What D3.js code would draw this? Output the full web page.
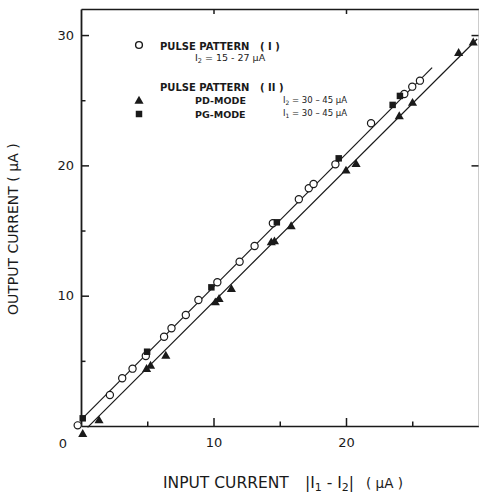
<!DOCTYPE html>
<html><head><meta charset="utf-8">
<script src="https://cdn.jsdelivr.net/npm/d3@7"></script>
<style>html,body{margin:0;padding:0;background:#fff;} svg{display:block;}</style>
</head><body>
<script>
// ---- data ----
const xTicks = [5, 10, 15, 20, 25];
const yTicks = [5, 10, 15, 20, 25, 30];
const xTickLabels = {10: "10", 20: "20"};
const yTickLabels = {10: "10", 20: "20", 30: "30"};

// PULSE PATTERN (I), open circles
const patternI = [[-0.25,0.05],[2.18,2.38],[3.11,3.66],[3.89,4.40],[4.89,5.37],[6.27,6.85],[6.83,7.50],[7.91,8.52],[8.86,9.67],[10.29,11.03],[11.97,12.61],[13.1,13.81],[14.48,15.56],[16.44,17.4],[17.19,18.24],[17.55,18.57],[19.2,20.08],[21.89,23.23],[24.4,25.48],[25.0,26.04],[25.58,26.5]];
// PULSE PATTERN (II) PG-MODE, filled squares
const pgMode = [[0.13,0.59],[4.99,5.70],[9.84,10.64],[14.78,15.63],[19.45,20.54],[23.52,24.64],[24.07,25.33]];
// PULSE PATTERN (II) PD-MODE, filled triangles
const pdMode = [[0.13,-0.64],[1.36,0.41],[4.95,4.35],[5.25,4.6],[6.4,5.37],[10.14,9.46],[10.42,9.72],[11.35,10.49],[14.36,14.07],[14.6,14.14],[15.86,15.3],[20.0,19.57],[20.76,20.08],[24.02,23.74],[25.02,24.77],[28.5,28.6],[29.6,29.4]];
// fitted lines
const upperLine = [[0.13,0.6],[26.5,27.5]];
const lowerLine = [[0.5,-0.1],[29.9,29.7]];

// ---- chart ----
const W = 479, H = 494;
const FONT = "'DejaVu Sans', sans-serif";
const INK = "#1a1a1a";
const svg = d3.select("body").append("svg").attr("width", W).attr("height", H)
  .style("font-family", FONT);

const x = d3.scaleLinear().domain([0, 30]).range([81, 478.5]);
const y = d3.scaleLinear().domain([0, 32]).range([426, 9]);

function styleAxis(g, w) {
  g.select(".domain").attr("stroke", INK).attr("stroke-width", w);
  g.selectAll(".tick line").attr("stroke", INK).attr("stroke-width", 1.5);
  g.selectAll(".tick text").attr("fill", INK).style("font-family", FONT).style("font-size", "13px");
}

// bottom
const gx = svg.append("g").attr("transform", `translate(0,${y(0)})`)
  .call(d3.axisBottom(x).tickValues(xTicks).tickSizeInner(-8).tickSizeOuter(0).tickPadding(12)
    .tickFormat(d => xTickLabels[d] || ""));
styleAxis(gx, 1.6);
gx.selectAll(".tick line").attr("y2", d => d % 10 === 0 ? -8 : -4.5);

// left
const gy = svg.append("g").attr("transform", `translate(${x(0)},0)`)
  .call(d3.axisLeft(y).tickValues(yTicks).tickSizeInner(-8).tickSizeOuter(0).tickPadding(7)
    .tickFormat(d => yTickLabels[d] || ""));
styleAxis(gy, 1.8);
gy.selectAll(".tick line").attr("x2", d => d % 10 === 0 ? 8 : 4.5);

// top
const gt = svg.append("g").attr("transform", `translate(0,${y(32)})`)
  .call(d3.axisTop(x).tickValues([10, 20]).tickSizeInner(-5).tickSizeOuter(0).tickFormat(""));
styleAxis(gt, 1.6);

// right
const gr = svg.append("g").attr("transform", `translate(${x(30)},0)`)
  .call(d3.axisRight(y).tickValues([20, 30]).tickSizeInner(-7).tickSizeOuter(0).tickFormat(""));
styleAxis(gr, 1);
gr.select(".domain").attr("stroke", "#999");

// origin label
svg.append("text").attr("x", x(0) - 18).attr("y", y(0) + 21.5)
  .attr("text-anchor", "middle").attr("fill", INK).style("font-size", "13px").text("0");

// lines
const line = d3.line().x(d => x(d[0])).y(d => y(d[1]));
[upperLine, lowerLine].forEach(l => {
  svg.append("path").attr("d", line(l)).attr("fill", "none").attr("stroke", INK).attr("stroke-width", 1.2);
});

// markers
svg.append("g").selectAll("circle").data(patternI).join("circle")
  .attr("cx", d => x(d[0])).attr("cy", d => y(d[1])).attr("r", 3.6)
  .attr("fill", "#fff").attr("stroke", INK).attr("stroke-width", 1.2);
const sq = d3.symbol().type(d3.symbolSquare).size(42);
svg.append("g").selectAll("path").data(pgMode).join("path")
  .attr("d", sq).attr("transform", d => `translate(${x(d[0])},${y(d[1])})`).attr("fill", INK);
const tri = d3.symbol().type(d3.symbolTriangle).size(36);
svg.append("g").selectAll("path").data(pdMode).join("path")
  .attr("d", tri).attr("transform", d => `translate(${x(d[0])},${y(d[1])})`).attr("fill", INK);

// legend
const lg = svg.append("g").attr("fill", INK);
lg.append("circle").attr("cx", 139).attr("cy", 45).attr("r", 3.4).attr("fill", "#fff").attr("stroke", INK).attr("stroke-width", 1.4);
lg.append("path").attr("d", tri).attr("transform", "translate(139,101)");
lg.append("path").attr("d", sq).attr("transform", "translate(139,114)");

function txt(xp, yp, size, weight, parts) {
  const t = lg.append("text").attr("x", xp).attr("y", yp)
    .style("font-size", size + "px").style("font-weight", weight);
  parts.forEach(p => {
    if (typeof p === "string") t.append("tspan").text(p);
    else {
      const s = t.append("tspan").text(p.t);
      if (p.dy !== undefined) s.attr("dy", p.dy);
      if (p.s !== undefined) s.style("font-size", p.s + "px");
      if (p.x !== undefined) s.attr("x", p.x);
    }
  });
  return t;
}
txt(160, 49.5, 10, "bold", ["PULSE PATTERN", {t: "(  I  )", x: 260}]);
txt(195, 60.5, 9.5, "normal", ["I", {t: "2", dy: 2, s: 6.5}, {t: " = 15 - 27 μA", dy: -2, s: 9.5}]);
txt(160, 90.5, 10, "bold", ["PULSE PATTERN", {t: "(  II  )", x: 260}]);
txt(195, 103.5, 9.5, "bold", ["PD-MODE"]);
txt(195, 117.5, 9.5, "bold", ["PG-MODE"]);
txt(283, 102.5, 8.5, "normal", ["I", {t: "2", dy: 2, s: 6}, {t: " = 30 – 45 μA", dy: -2, s: 8.5}]);
txt(283, 115.5, 8.5, "normal", ["I", {t: "1", dy: 2, s: 6}, {t: " = 30 – 45 μA", dy: -2, s: 8.5}]);

// axis titles
const xt = svg.append("text").attr("y", 488).attr("fill", INK).style("font-size", "15.5px");
xt.append("tspan").attr("x", 163).text("INPUT CURRENT");
xt.append("tspan").attr("x", 305).text("|I");
xt.append("tspan").attr("dy", 3).style("font-size", "11px").text("1");
xt.append("tspan").attr("dy", -3).text(" - I");
xt.append("tspan").attr("dy", 3).style("font-size", "11px").text("2");
xt.append("tspan").attr("dy", -3).text("|");
xt.append("tspan").attr("x", 366).style("font-size", "13.5px").text("( μA )");

svg.append("text").attr("transform", "translate(18,315) rotate(-90)")
  .attr("fill", INK).style("font-size", "14px").attr("text-anchor", "start")
  .text("OUTPUT CURRENT  ( μA )");
</script>
</body></html>
